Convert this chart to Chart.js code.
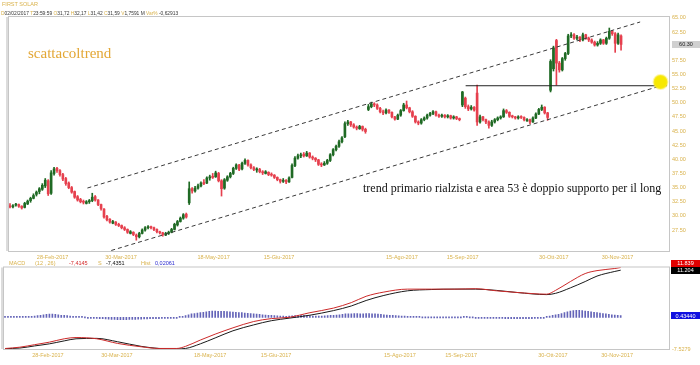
<!DOCTYPE html>
<html lang="it">
<head>
<meta charset="utf-8">
<title>First Solar - scattacoltrend</title>
<script src="https://cdn.jsdelivr.net/npm/chart.js@4.4.1/dist/chart.umd.min.js"></script>
<style>
  body { margin: 0; width: 700px; height: 365px; overflow: hidden; background: #fff; position: relative; font-family: "Liberation Sans", Arial, sans-serif; }
  canvas { position: absolute; left: 0; }
  #priceChart { top: 0; }
  #macdChart { top: 256px; }
  .lbl { position: absolute; font-size: 5.5px; line-height: 6px; white-space: nowrap; color: #333; }
  .gold { color: #d9b24c; }
  .quote { transform: scaleX(0.885); transform-origin: 0 0; }
  .note { position: absolute; font-family: "Liberation Serif", "DejaVu Serif", serif; white-space: nowrap; line-height: 1; }
</style>
</head>
<body>
<canvas id="priceChart" width="700" height="262"></canvas>
<canvas id="macdChart" width="700" height="109"></canvas>

<!-- header of the price panel -->
<div class="lbl gold" style="left:2px;top:1px">FIRST SOLAR</div>
<div class="lbl quote" style="left:1px;top:10px"><span class="gold">D</span>02/02/2017 <span class="gold">T</span>23:59:59 <span class="gold">O</span>31,72 <span class="gold">H</span>32,17 <span class="gold">L</span>31,42 <span class="gold">C</span>31,59 <span class="gold">V</span>1,7591 M <span class="gold">Var%</span> -0,62913</div>

<!-- header of the MACD panel -->
<div class="lbl gold" style="left:9px;top:260px">MACD</div>
<div class="lbl gold" style="left:35px;top:260px">(12 , 26)</div>
<div class="lbl" style="left:69px;top:260px;color:#d42a2a">-7,4145</div>
<div class="lbl gold" style="left:98px;top:260px">S</div>
<div class="lbl" style="left:106px;top:260px;color:#111">-7,4351</div>
<div class="lbl gold" style="left:141px;top:260px">Hist</div>
<div class="lbl" style="left:155px;top:260px;color:#2a2ad0">0,02061</div>

<!-- notes written on the chart -->
<div class="note" style="left:28px;top:46px;font-size:15px;color:#e3a735">scattacoltrend</div>
<div class="note" style="left:363px;top:182px;font-size:12px;color:#111">trend primario rialzista e area 53 è doppio supporto per il long</div>

<script>
// daily candles, 02/02/2017 -> 01/12/2017
const opens = [
  31.72,31.6,31.9,32.0,31.7,31.5,32.1,32.7,33.1,33.8,
  34.3,34.7,35.3,36.2,34.0,37.5,38.4,38.0,37.3,36.6,
  35.8,35.0,34.3,33.4,32.9,32.5,32.2,32.5,32.7,33.4,
  32.8,32.0,31.2,29.9,29.4,28.7,28.9,28.5,28.3,27.9,
  27.6,26.9,27.1,26.6,26.3,26.9,27.5,27.9,28.1,27.9,
  27.6,27.2,27.0,26.6,26.9,27.1,27.6,28.4,29.0,29.6,
  30.3,32.3,34.8,34.4,34.9,35.3,35.9,35.8,36.7,37.0,
  36.9,37.5,36.2,34.9,36.3,36.9,37.5,38.4,39.0,38.3,
  39.3,39.8,39.0,38.5,38.1,38.2,37.8,37.5,37.7,37.3,
  37.2,36.8,36.4,36.1,36.3,36.0,36.8,38.9,40.2,40.6,
  40.9,40.6,41.1,40.4,40.2,39.9,39.1,39.0,39.3,39.8,
  40.8,41.7,42.3,43.1,44.0,46.3,46.6,46.1,45.7,45.4,
  45.8,45.3,48.8,49.3,49.8,49.6,49.0,48.4,48.2,48.7,
  48.3,47.5,47.1,47.8,48.6,49.6,49.1,48.4,47.6,46.6,
  46.4,47.0,47.3,47.8,48.1,48.4,47.8,47.6,47.8,47.5,
  47.7,47.3,47.5,47.2,49.6,50.8,49.3,48.9,49.2,51.7,
  46.6,47.5,47.0,46.6,46.0,46.6,47.0,47.3,47.5,48.6,
  48.3,47.6,47.5,47.3,47.5,47.4,46.8,47.0,46.6,47.3,
  48.0,48.8,49.2,48.2,52.2,56.0,61.0,57.0,55.8,57.8,
  58.7,61.8,62.0,61.4,61.6,61.1,62.0,61.4,61.1,60.7,
  60.2,60.5,61.1,60.5,61.4,62.6,62.2,60.5,61.8
];
const highs = [
  32.17,32.0,32.2,32.1,31.8,32.4,32.8,33.3,33.9,34.4,
  35.0,35.7,36.6,36.4,38.0,38.6,38.6,38.2,37.5,36.8,
  36.0,35.2,34.4,33.6,33.1,32.8,32.7,32.9,34.0,33.6,
  32.9,32.1,31.3,30.1,29.5,29.2,29.0,28.7,28.4,28.1,
  27.7,27.4,27.2,26.8,27.1,27.7,28.1,28.3,28.2,28.0,
  27.7,27.3,27.1,27.1,27.3,27.8,28.7,29.2,29.8,30.4,
  30.5,36.0,35.0,35.2,35.6,36.0,36.4,36.9,37.2,37.5,
  37.9,37.7,36.4,36.6,37.1,37.7,38.6,39.2,39.1,39.5,
  40.1,39.9,39.2,38.7,38.5,38.4,38.0,38.0,37.8,37.6,
  37.3,36.9,36.5,36.6,36.4,36.9,39.2,40.5,40.9,41.1,
  41.2,41.4,41.2,40.6,40.3,40.0,39.4,39.6,40.0,41.0,
  41.9,42.5,43.4,44.0,46.6,46.9,46.7,46.3,45.9,46.0,
  45.9,45.5,49.7,50.1,50.0,49.8,49.2,48.7,48.9,48.8,
  48.4,47.6,48.0,48.8,49.9,50.3,49.2,48.6,47.7,46.8,
  47.2,47.5,48.0,48.3,48.6,48.5,48.0,48.0,47.9,47.9,
  47.8,47.7,47.6,47.3,52.0,51.0,49.6,49.5,49.3,53.1,
  47.8,47.6,47.1,46.8,46.9,47.2,47.5,47.7,48.9,48.8,
  48.4,47.8,47.6,47.7,47.7,47.5,47.2,47.1,47.5,48.2,
  49.0,49.6,49.3,48.3,57.6,60.0,61.2,57.3,58.0,58.9,
  62.1,62.4,62.2,61.9,61.7,62.3,62.1,61.6,61.3,60.9,
  60.8,61.3,61.2,61.6,63.2,62.8,62.4,62.3,62.0
];
const lows = [
  31.42,31.4,31.7,31.5,31.2,31.4,32.0,32.4,33.0,33.5,
  33.9,34.5,35.0,33.6,33.8,37.2,37.7,37.0,36.2,35.4,
  34.8,34.0,33.1,32.6,32.3,32.1,32.1,32.2,32.5,32.6,
  31.8,31.0,29.6,29.1,28.7,28.6,28.3,28.1,27.7,27.4,
  26.9,26.8,26.5,25.7,26.1,26.8,27.3,27.7,27.7,27.4,
  27.0,26.8,26.4,26.5,26.7,27.0,27.5,28.2,28.9,29.4,
  29.6,32.0,34.0,34.2,34.7,35.1,35.5,35.7,36.3,36.6,
  36.8,36.0,33.5,34.7,36.1,36.7,37.3,38.2,38.0,38.1,
  39.1,38.8,38.3,38.0,37.7,37.6,37.3,37.4,37.1,37.0,
  36.6,36.2,35.8,35.9,35.7,35.9,36.7,38.7,40.0,40.3,
  40.4,40.5,40.2,39.9,39.6,38.9,38.7,38.9,39.1,39.6,
  40.6,41.5,42.1,42.9,43.8,46.0,45.8,45.5,45.2,45.3,
  45.0,44.6,48.6,49.1,49.3,48.8,48.2,47.9,48.0,48.1,
  47.3,46.9,47.0,47.6,48.5,48.9,48.2,47.4,46.4,46.1,
  46.2,46.8,47.1,47.6,47.9,47.6,47.4,47.4,47.3,47.3,
  47.1,47.1,47.0,46.8,49.3,49.0,48.6,48.7,48.5,46.0,
  46.4,46.8,46.3,45.5,45.8,46.4,46.8,47.1,47.4,48.1,
  47.4,47.3,47.1,47.1,47.2,46.8,46.7,46.3,46.5,47.2,
  47.9,48.6,48.0,46.9,51.9,55.6,53.1,55.4,55.6,57.5,
  58.5,61.5,61.2,61.1,60.8,60.9,61.2,60.8,60.5,60.0,
  60.0,60.3,60.3,60.3,61.2,61.9,58.9,60.3,59.3
];
const closes = [
  31.59,31.8,32.0,31.7,31.4,32.2,32.6,33.1,33.6,34.2,
  34.8,35.4,36.3,33.9,37.6,38.3,38.0,37.3,36.5,35.7,
  35.0,34.2,33.3,32.8,32.5,32.4,32.5,32.7,33.3,32.8,
  32.0,31.3,29.8,29.3,28.9,29.0,28.5,28.3,27.9,27.6,
  27.1,27.2,26.7,26.3,26.9,27.5,27.9,28.0,27.9,27.6,
  27.2,27.0,26.7,26.9,27.1,27.6,28.5,29.0,29.6,30.2,
  29.8,34.8,34.4,34.9,35.3,35.8,35.7,36.7,36.9,36.8,
  37.6,36.2,34.8,36.4,36.9,37.5,38.4,39.0,38.2,39.3,
  39.8,39.0,38.5,38.2,38.3,37.8,37.6,37.8,37.3,37.2,
  36.8,36.4,36.1,36.3,36.0,36.7,38.9,40.2,40.6,40.8,
  40.6,41.1,40.4,40.2,39.9,39.1,39.0,39.3,39.8,40.8,
  41.7,42.3,43.1,43.8,46.3,46.6,46.1,45.7,45.5,45.8,
  45.3,44.9,49.3,49.8,49.6,49.0,48.4,48.2,48.7,48.3,
  47.5,47.1,47.8,48.6,49.6,49.1,48.4,47.6,46.6,46.4,
  47.0,47.3,47.8,48.1,48.4,47.8,47.6,47.8,47.5,47.7,
  47.3,47.5,47.2,47.0,51.9,49.3,48.9,49.2,48.7,46.6,
  47.5,47.0,46.6,46.0,46.6,47.0,47.3,47.5,48.6,48.3,
  47.6,47.5,47.3,47.5,47.4,47.0,47.0,46.6,47.3,48.0,
  48.8,49.2,48.2,47.4,57.3,59.7,57.0,55.8,57.8,58.7,
  61.8,62.0,61.4,61.6,61.1,62.0,61.4,61.1,60.7,60.2,
  60.5,61.1,60.5,61.4,62.6,62.2,60.5,62.0,60.30
];

// MACD panel: histogram for every bar, the two lines read at these bars
const hist = [
  0.05,0.05,0.05,0.05,0.05,0.08,0.1,0.12,0.15,
  0.2,0.3,0.4,0.5,0.6,0.7,0.75,0.75,0.7,0.6,0.5,0.45,0.4,0.3,0.2,0.1,
  0.05,0.02,0,-0.05,-0.1,-0.15,-0.2,
  -0.3,-0.35,-0.4,-0.45,-0.5,-0.5,-0.55,-0.55,-0.55,-0.55,-0.5,-0.5,-0.5,-0.45,-0.45,-0.4,-0.4,-0.35,-0.35,-0.3,-0.3,-0.25,-0.2,-0.2,-0.15,-0.1,-0.05,
  0.05,0.1,0.4,0.6,0.8,0.9,1.0,1.1,1.2,1.3,1.4,1.5,1.5,1.45,1.45,1.4,1.35,1.3,1.25,1.2,1.15,1.1,1.0,0.95,0.9,0.8,0.75,0.7,0.6,0.55,
  0.5,0.45,0.4,0.35,0.3,0.3,0.25,0.3,0.35,
  0.4,0.4,0.45,0.45,0.4,0.35,0.3,0.3,0.3,0.3,0.35,0.4,0.45,0.5,0.55,0.6,0.7,0.8,0.85,0.85,
  0.9,0.9,0.85,0.8,0.9,0.9,0.85,0.8,0.75,0.7,0.6,0.55,0.5,0.45,
  0.4,0.35,0.3,0.3,0.25,
  0.15,0.1,0.05,0.05,0,0,0,0,0,0,0,0,0,0,0,0,0,0,0.05,0.05,0,0,-0.05,-0.05,-0.1,-0.1,-0.1,
  -0.15,-0.2,-0.2,-0.25,-0.25,-0.3,-0.3,-0.3,-0.35,-0.35,-0.35,-0.35,-0.3,-0.3,-0.3,-0.25,-0.2,-0.15,-0.1,
  0.1,0.3,0.5,0.6,0.7,0.9,1.1,1.3,1.5,1.6,1.65,1.65,1.6,1.5,1.4,1.3,1.2,1.1,1.0,0.9,0.8,0.7,0.6,0.55,0.5,0.4344
];
const macdIdx = [0,5,10,15,20,24,31,38,46,52,58,61,66,71,77,84,90,96,103,111,117,122,128,136,144,152,159,166,173,183,186,191,196,200,206,208];
const macdLine = [-7.41,-7.1,-6.5,-5.9,-5.1,-4.8,-5.1,-6.2,-7.0,-7.4,-7.4,-6.9,-5.4,-4.0,-2.5,-1.0,-0.3,0.0,1.1,2.2,3.5,5.0,6.0,6.7,6.7,6.7,6.8,6.3,5.9,5.5,6.4,8.5,10.4,11.1,11.6,11.839];
const signalLine = [-7.44,-7.3,-6.8,-6.3,-5.6,-5.1,-5.0,-5.8,-6.9,-7.4,-7.5,-7.4,-6.3,-4.9,-3.2,-1.8,-0.8,-0.2,0.5,1.6,2.7,4.0,5.2,6.3,6.6,6.7,6.7,6.4,5.9,5.4,5.7,7.0,8.5,9.8,10.9,11.204];

// date ticks (bar index, label)
const tickIdx = [14.5,37.8,69.3,91.6,133.4,154.1,185.1,206.8];
const tickLabels = ['28-Feb-2017','30-Mar-2017','18-May-2017','15-Giu-2017','15-Ago-2017','15-Sep-2017','30-Ott-2017','30-Nov-2017'];
const priceTicks = [27.5,30,32.5,35,37.5,40,42.5,45,47.5,50,52.5,55,57.5,60,62.5,65];

// lines drawn by hand on the chart (bar index, price)
const upperChannel = [[26.35,34.92],[214.5,64.27]];
const lowerChannel = [[34.46,23.88],[223.6,53.31]];
const supportLine = [[155.1,53.0],[223.6,53.0]];
const marker = [[221.45,53.66]];

const GOLD = '#d9b24c';
const UP = '#1f6a24';
const DOWN = '#e6404e';
const SMALL = { family: 'Liberation Sans', size: 5.5 };
const X_MIN = -0.34, X_MAX = 224.32;
const last = closes.length - 1;

const pts = arr => arr.map(p => ({ x: p[0], y: p[1] }));
const candleColor = c => closes[c.dataIndex] >= opens[c.dataIndex] ? UP : DOWN;

// grey frame around the plot area
const framePlugin = {
  id: 'frame',
  beforeDatasetsDraw(chart) {
    const a = chart.chartArea, g = chart.ctx;
    g.save();
    g.strokeStyle = '#c6c6c6';
    g.lineWidth = 1;
    g.strokeRect(a.left - 0.5, a.top - 0.5, a.right - a.left + 1, a.bottom - a.top + 1);
    g.fillStyle = '#dcdcdc';
    g.fillRect(a.left - 3, a.top, 2, a.bottom - a.top);
    g.restore();
  }
};

function tag(g, y, fill, color, text, x, w) {
  g.save();
  g.fillStyle = fill;
  g.fillRect(x, Math.round(y - 3.5), w, 7);
  g.fillStyle = color;
  g.font = '5.5px "Liberation Sans"';
  g.textAlign = 'center';
  g.textBaseline = 'middle';
  g.fillText(text, x + w / 2, y + 0.5);
  g.restore();
}

const xScale = (height) => ({
  type: 'linear', min: X_MIN, max: X_MAX, offset: false,
  grid: { display: false, drawTicks: false }, border: { display: false },
  afterBuildTicks: s => { s.ticks = tickIdx.map(v => ({ value: v })); },
  afterFit: s => { s.height = height; },
  ticks: { autoSkip: false, maxRotation: 0, padding: 3, color: GOLD, font: SMALL, callback: (v, i) => tickLabels[i] }
});

// price panel
new Chart(document.getElementById('priceChart'), {
  type: 'bar',
  data: {
    datasets: [
      { label: 'wick', data: closes.map((c, i) => ({ x: i, y: [lows[i], highs[i]] })), backgroundColor: candleColor, barThickness: 1, grouped: false, order: 3 },
      { label: 'body', data: closes.map((c, i) => ({ x: i, y: [opens[i], c] })), backgroundColor: candleColor, barThickness: 2, minBarLength: 1, grouped: false, order: 2 },
      { type: 'line', label: 'upper', data: pts(upperChannel), borderColor: '#3a3a3a', borderWidth: 1, borderDash: [4, 3], pointRadius: 0, order: 1 },
      { type: 'line', label: 'lower', data: pts(lowerChannel), borderColor: '#3a3a3a', borderWidth: 1, borderDash: [4, 3], pointRadius: 0, order: 1 },
      { type: 'line', label: 'support', data: pts(supportLine), borderColor: '#222', borderWidth: 1, pointRadius: 0, order: 1 },
      { type: 'line', label: 'marker', data: pts(marker), showLine: false, pointRadius: 7, pointBackgroundColor: '#f7e800', pointBorderColor: 'rgba(250,236,70,0.45)', pointBorderWidth: 2, order: 0 }
    ]
  },
  options: {
    responsive: false, animation: false, devicePixelRatio: 1,
    layout: { padding: { top: 17, left: 4, right: 0, bottom: 0 } },
    plugins: { legend: { display: false }, tooltip: { enabled: false } },
    scales: {
      x: xScale(11),
      y: {
        position: 'right', min: 23.79, max: 65.15,
        grid: { display: false, drawTicks: false }, border: { display: false },
        afterBuildTicks: s => { s.ticks = priceTicks.map(v => ({ value: v })); },
        afterFit: s => { s.width = 31; },
        ticks: { padding: 3, color: GOLD, font: SMALL, callback: v => v.toFixed(2) }
      }
    }
  },
  plugins: [framePlugin, {
    id: 'lastPrice',
    afterDraw(chart) {
      const y = chart.scales.y.getPixelForValue(closes[last]);
      tag(chart.ctx, y, '#d0d0d0', '#222', closes[last].toFixed(2), 672, 28);
    }
  }]
});

// MACD panel
new Chart(document.getElementById('macdChart'), {
  type: 'bar',
  data: {
    datasets: [
      { label: 'Hist', data: hist.map((h, i) => ({ x: i, y: h })), backgroundColor: '#6464b8', barThickness: 1, minBarLength: 1, order: 3 },
      { type: 'line', label: 'S', data: macdIdx.map((x, i) => ({ x, y: signalLine[i] })), borderColor: '#1a1a1a', borderWidth: 1, pointRadius: 0, cubicInterpolationMode: 'monotone', order: 2 },
      { type: 'line', label: 'MACD', data: macdIdx.map((x, i) => ({ x, y: macdLine[i] })), borderColor: '#cc2a2a', borderWidth: 1, pointRadius: 0, cubicInterpolationMode: 'monotone', order: 1 }
    ]
  },
  options: {
    responsive: false, animation: false, devicePixelRatio: 1,
    layout: { padding: { top: 11.5, left: 4, right: 0, bottom: 0 } },
    plugins: { legend: { display: false }, tooltip: { enabled: false } },
    scales: {
      x: xScale(16),
      y: {
        position: 'right', min: -7.5279, max: 11.839,
        grid: { display: false, drawTicks: false }, border: { display: false },
        afterBuildTicks: s => { s.ticks = [{ value: -7.5279 }]; },
        afterFit: s => { s.width = 31; },
        ticks: { padding: 3, color: GOLD, font: SMALL, callback: v => v.toFixed(4) }
      }
    }
  },
  plugins: [framePlugin, {
    id: 'lastValues',
    afterDraw(chart) {
      const s = chart.scales.y, g = chart.ctx;
      const yS = s.getPixelForValue(signalLine[signalLine.length - 1]);
      const yM = Math.min(s.getPixelForValue(macdLine[macdLine.length - 1]), yS - 7);
      tag(g, yM, '#e00000', '#fff', macdLine[macdLine.length - 1].toFixed(3), 671, 29);
      tag(g, yS, '#000', '#fff', signalLine[signalLine.length - 1].toFixed(3), 671, 29);
      tag(g, s.getPixelForValue(hist[last]), '#1010e0', '#fff', hist[last].toFixed(5), 671, 29);
    }
  }]
});
</script>
</body>
</html>
